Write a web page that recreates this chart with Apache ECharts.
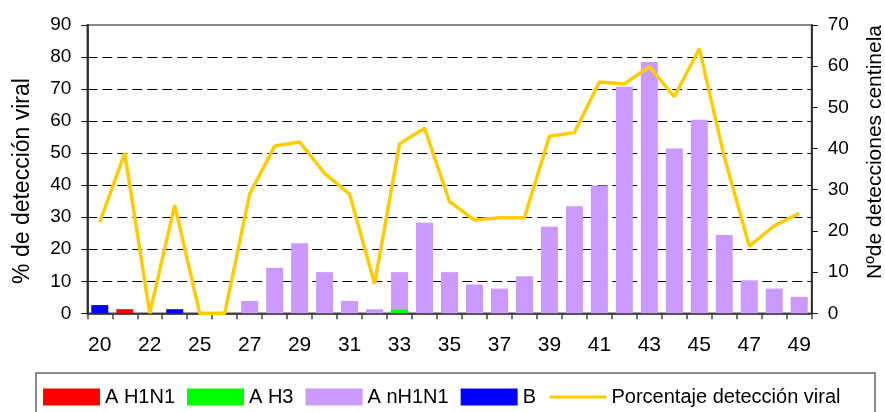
<!DOCTYPE html>
<html>
<head>
<meta charset="utf-8">
<script src="https://cdn.jsdelivr.net/npm/echarts@6/dist/echarts.min.js"></script>
<style>html,body{margin:0;padding:0;background:#fff}#c{width:885px;height:412px}</style>
</head>
<body>
<div id="c"></div>
<script>
var weeks = ['20','21','22','24','25','26','27','28','29','30','31','32','33','34','35','36','37','38','39','40','41','42','43','44','45','46','47','48','49'];
var aH1N1 = [0,1,0,0,0,0,0,0,0,0,0,0,0,0,0,0,0,0,0,0,0,0,0,0,0,0,0,0,0];
var aH3   = [0,0,0,0,0,0,0,0,0,0,0,0,1,0,0,0,0,0,0,0,0,0,0,0,0,0,0,0,0];
var anH1N1= [0,0,0,0,0,0,3,11,17,10,3,1,9,22,10,7,6,9,21,26,31,55,61,40,47,19,8,6,4];
var bVir  = [2,0,0,1,0,0,0,0,0,0,0,0,0,0,0,0,0,0,0,0,0,0,0,0,0,0,0,0,0];
var pct   = [28.5,50,0,33.8,0,0,37.2,52.2,53.5,43.7,37.2,9.2,52.9,57.8,34.9,29.1,29.8,29.8,55.3,56.4,72.2,71.6,77.0,67.6,82.6,48.9,21.0,27.3,31.2];
var leftTitle = '% de detección viral';
var rightTitle = 'Nºde detecciones centinela';

var FONT = '"Liberation Sans", Arial, sans-serif';
var chart = echarts.init(document.getElementById('c'), null, {renderer:'canvas'});
function bar(name, data, color){
  return {name:name, type:'bar', stack:'v', yAxisIndex:1, data:data, barWidth:17,
    itemStyle:{color:color}, emphasis:{disabled:true}, animation:false};
}
chart.setOption({
  animation:false,
  textStyle:{fontFamily:FONT, color:'#000'},
  grid:{left:87.3, right:73.3, top:25, bottom:98.7, show:true, borderColor:'#888', borderWidth:2, backgroundColor:'transparent'},
  xAxis:{type:'category', data:weeks, boundaryGap:true,
    axisLine:{lineStyle:{color:'#222', width:1.5}},
    axisTick:{show:true, length:6, interval:0, alignWithLabel:false, lineStyle:{color:'#444', width:1.5}},
    axisLabel:{interval:1, fontSize:21, margin:21, color:'#000', fontFamily:FONT}},
  yAxis:[
    {type:'value', min:0, max:90, interval:10, position:'left',
     axisLine:{show:true, lineStyle:{color:'#111', width:1.5}},
     axisTick:{show:true, length:6, lineStyle:{color:'#111'}},
     axisLabel:{fontSize:19, margin:16, color:'#000', fontFamily:FONT},
     splitLine:{show:true, showMinLine:false, showMaxLine:false, lineStyle:{color:'#000', type:[10,5], width:1}}},
    {type:'value', min:0, max:70, interval:10, position:'right',
     axisLine:{show:true, lineStyle:{color:'#111', width:1.5}},
     axisTick:{show:true, length:6, lineStyle:{color:'#111'}},
     axisLabel:{fontSize:19, margin:16, color:'#000', fontFamily:FONT},
     splitLine:{show:false}}
  ],
  legend:{left:43, top:387, padding:0, itemWidth:57, itemHeight:17, itemGap:12,
    textStyle:{fontSize:20, color:'#000', fontFamily:FONT},
    data:[
      {name:'A H1N1', icon:'rect'},
      {name:'A H3', icon:'rect'},
      {name:'A nH1N1', icon:'rect'},
      {name:'B', icon:'rect'},
      {name:'Porcentaje detección viral', itemStyle:{opacity:0}, lineStyle:{width:3}}
    ]},
  graphic:[
    {type:'rect', shape:{x:36, y:373, width:839, height:60}, style:{fill:'none', stroke:'#666', lineWidth:1.5}, silent:true},
    {type:'text', x:23, y:181, rotation:Math.PI/2, style:{text:leftTitle, font:'23px '+FONT, fill:'#000', textAlign:'center', textVerticalAlign:'middle'}},
    {type:'text', x:875, y:152, rotation:Math.PI/2, style:{text:rightTitle, font:'21px '+FONT, fill:'#000', textAlign:'center', textVerticalAlign:'middle'}}
  ],
  series:[
    bar('A H1N1', aH1N1, '#FF0000'),
    bar('A H3', aH3, '#00FF00'),
    bar('A nH1N1', anH1N1, '#CC99FF'),
    bar('B', bVir, '#0000FF'),
    {name:'Porcentaje detección viral', type:'line', yAxisIndex:0, data:pct, symbol:'none', z:5,
     lineStyle:{color:'#FFCC00', width:3.5}, itemStyle:{color:'#FFCC00'}, emphasis:{disabled:true}}
  ]
});
</script>
</body>
</html>
